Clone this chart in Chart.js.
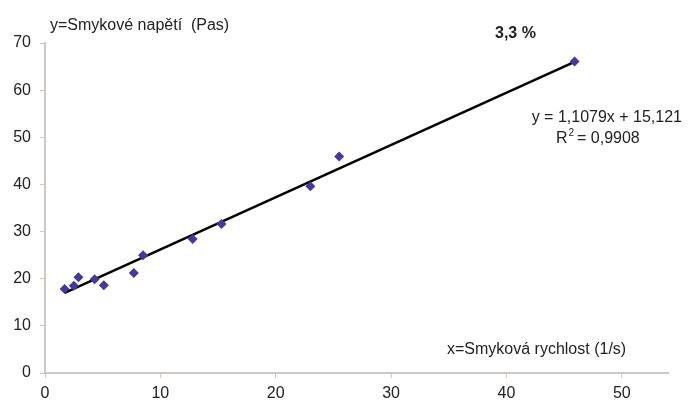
<!DOCTYPE html>
<html>
<head>
<meta charset="utf-8">
<script src="https://cdn.jsdelivr.net/npm/chart.js@4/dist/chart.umd.min.js"></script>
<style>
  html, body { margin: 0; padding: 0; background: #ffffff; }
  #wrap { width: 691px; height: 401px; }
</style>
</head>
<body>
<div id="wrap"><canvas id="c" width="691" height="401"></canvas></div>
<script>
// Measured points: shear rate (1/s) vs. shear stress (Pa)
const shearRate   = [1.7, 2.5, 2.9, 4.3, 5.1, 7.7, 8.5, 12.8, 15.3, 23.0, 25.5, 45.9];
const shearStress = [17.8, 18.5, 20.3, 19.9, 18.6, 21.2, 25.0, 28.4, 31.6, 39.6, 45.9, 66.1];

// Linear regression reported on the chart
const slope = 1.1079;
const intercept = 15.121;
const rSquared = '0,9908';
const concentration = '3,3 %';

const xTicks = [0, 10, 20, 30, 40, 50];
const yTicks = [0, 10, 20, 30, 40, 50, 60, 70];

const yTitle = 'y=Smykové napětí  (Pas)';
const xTitle = 'x=Smyková rychlost (1/s)';

const points = shearRate.map((x, i) => ({ x, y: shearStress[i] }));
const xMin = Math.min(...shearRate), xMax = Math.max(...shearRate);
const trend = [xMin, xMax].map(x => ({ x, y: slope * x + intercept }));

const FONT = '"Liberation Sans", Arial, sans-serif';
const SIZE = 16;

const textPlugin = {
  id: 'annotations',
  afterDraw(chart) {
    const ctx = chart.ctx;
    ctx.save();
    ctx.fillStyle = '#222';
    ctx.textBaseline = 'alphabetic';
    ctx.font = SIZE + 'px ' + FONT;
    ctx.textAlign = 'left';
    ctx.fillText(yTitle, 50, 30);
    ctx.fillText(xTitle, 447, 354);
    ctx.font = 'bold ' + SIZE + 'px ' + FONT;
    ctx.fillText(concentration, 495, 38);
    ctx.font = SIZE + 'px ' + FONT;
    ctx.textAlign = 'right';
    const eq = 'y = ' + slope.toString().replace('.', ',') + 'x + ' + intercept.toString().replace('.', ',');
    ctx.fillText(eq, 682, 122);
    // R² line with superscript
    ctx.textAlign = 'left';
    const rx = 556, ry = 143;
    ctx.fillText('R', rx, ry);
    const rw = ctx.measureText('R').width;
    ctx.font = '10px ' + FONT;
    ctx.fillText('2', rx + rw + 1, ry - 7);
    ctx.font = SIZE + 'px ' + FONT;
    ctx.fillText(' = ' + rSquared, rx + rw + 5, ry);
    ctx.restore();
  }
};

new Chart(document.getElementById('c'), {
  type: 'scatter',
  data: {
    datasets: [
      {
        label: 'trend',
        type: 'line',
        data: trend,
        borderColor: '#000000',
        borderWidth: 2.5,
        pointRadius: 0,
        fill: false,
        order: 2
      },
      {
        label: 'data',
        data: points,
        pointStyle: 'rectRot',
        pointRadius: 5,
        backgroundColor: '#443899',
        borderColor: '#443899',
        borderWidth: 0,
        order: 1
      }
    ]
  },
  options: {
    responsive: false,
    animation: false,
    events: [],
    layout: { padding: { top: 43, right: 23, left: 0, bottom: 0 } },
    plugins: { legend: { display: false }, tooltip: { enabled: false } },
    scales: {
      x: {
        type: 'linear',
        min: 0,
        max: 54,
        afterBuildTicks(scale) { scale.ticks = xTicks.map(v => ({ value: v })); },
        afterFit(scale) { scale.height = 28; },
        border: { color: '#cfc8c2', width: 2 },
        grid: { drawOnChartArea: false, tickLength: 5, color: '#cfc8c2' },
        ticks: { color: '#222', font: { family: FONT, size: SIZE }, padding: 6, maxRotation: 0 }
      },
      y: {
        type: 'linear',
        min: 0,
        max: 70,
        afterBuildTicks(scale) { scale.ticks = yTicks.map(v => ({ value: v })); },
        afterFit(scale) { scale.width = 45; },
        border: { color: '#cfc8c2', width: 2 },
        grid: { drawOnChartArea: false, tickLength: 5, color: '#cfc8c2' },
        ticks: { color: '#222', font: { family: FONT, size: SIZE }, padding: 9 }
      }
    }
  },
  plugins: [textPlugin]
});
</script>
</body>
</html>
